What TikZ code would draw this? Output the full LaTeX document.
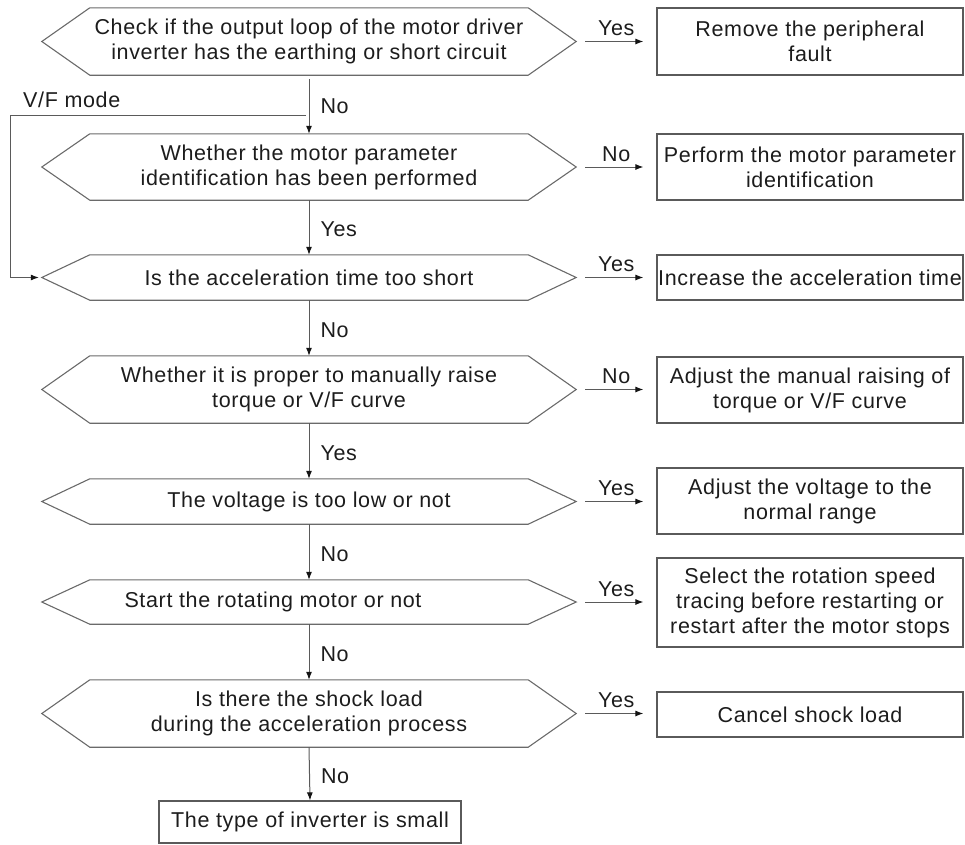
\documentclass[tikz,border=0pt]{standalone}
\usepackage{fontspec}
\setmainfont{Liberation Sans}[LetterSpace=3]
\usetikzlibrary{arrows.meta}

\definecolor{lineclr}{HTML}{5A5A5A}
\definecolor{hexclr}{HTML}{6A6A6A}
\definecolor{textclr}{HTML}{1C1C1C}
\definecolor{tipclr}{HTML}{141414}

\tikzset{
  txt/.style={font=\fontsize{21.5}{25}\selectfont, text=textclr, inner sep=0pt},
  hexnode/.style={txt, align=center, minimum width=534pt},
  hexline/.style={draw=hexclr, line width=1.1pt, line join=miter},
  actbox/.style={txt, align=center, draw=lineclr, line width=1.2pt, minimum width=306pt},
  endbox/.style={txt, align=center, draw=lineclr, line width=1.2pt, minimum width=302pt},
  flow/.style={draw=lineclr, line width=1pt, -{Latex[length=8pt,width=6pt,color=tipclr]}},
  vlbl/.style={txt, midway, right=11pt, yshift=-2pt},
  hlbl/.style={txt, midway, above=5pt},
}

% decision outline: flat top and bottom, pointed left and right ends
\newcommand\decisionoutline[1]{%
  \path[hexline] (#1.west) -- ([xshift=48pt]#1.north west) -- ([xshift=-48pt]#1.north east)
    -- (#1.east) -- ([xshift=-48pt]#1.south east) -- ([xshift=48pt]#1.south west) -- cycle;}

\begin{document}
\begin{tikzpicture}[x=1pt, y=-1pt]
  \useasboundingbox (0,0) rectangle (965,844);

  % decisions
  \node[hexnode, minimum height=67pt] (h1) at (309,41.5)
    {Check if the output loop of the motor driver\\inverter has the earthing or short circuit};
  \node[hexnode, minimum height=66pt] (h2) at (309,167)
    {Whether the motor parameter\\identification has been performed};
  \node[hexnode, minimum height=45pt] (h3) at (309,277.5)
    {Is the acceleration time too short};
  \node[hexnode, minimum height=67pt] (h4) at (309,389.5)
    {Whether it is proper to manually raise\\torque or V/F curve};
  \node[hexnode, minimum height=45pt] (h5) at (309,501.5)
    {The voltage is too low or not};
  \node[hexnode, minimum height=44pt] (h6) at (309,602) {};
  \node[txt] (h6text) at (273,602) {Start the rotating motor or not};
  \node[hexnode, minimum height=67pt] (h7) at (309,713.5)
    {Is there the shock load\\during the acceleration process};

  \foreach \h in {h1,h2,h3,h4,h5,h6,h7} {\decisionoutline{\h}}

  % actions
  \node[actbox, minimum height=67pt] (b1) at (810,41.5) {Remove the peripheral\\fault};
  \node[actbox, minimum height=66pt] (b2) at (810,167) {Perform the motor parameter\\identification};
  \node[actbox, minimum height=45pt] (b3) at (810,277.5) {Increase the acceleration time};
  \node[actbox, minimum height=66pt] (b4) at (810,390) {Adjust the manual raising of\\torque or V/F curve};
  \node[actbox, minimum height=66pt] (b5) at (810,501) {Adjust the voltage to the\\normal range};
  \node[actbox, minimum height=89pt] (b6) at (810,602.5)
    {Select the rotation speed\\tracing before restarting or\\restart after the motor stops};
  \node[actbox, minimum height=45pt] (b7) at (810,714.5) {Cancel shock load};

  \node[endbox, minimum height=42pt] (fin) at (310,822) {The type of inverter is small};

  % main vertical flow
  \draw[flow, shorten <=4pt] (h1.south) -- (h2.north) node[vlbl] {No};
  \draw[flow] (h2.south) -- (h3.north) node[vlbl] {Yes};
  \draw[flow] (h3.south) -- (h4.north) node[vlbl] {No};
  \draw[flow] (h4.south) -- (h5.north) node[vlbl] {Yes};
  \draw[flow] (h5.south) -- (h6.north) node[vlbl] {No};
  \draw[flow] (h6.south) -- (h7.north) node[vlbl] {No};
  \draw[flow] (h7.south) -- (fin.north) node[vlbl] {No};

  % branches to the actions
  \foreach \h/\b/\t in {h1/b1/Yes, h2/b2/No, h3/b3/Yes, h4/b4/No, h5/b5/Yes, h6/b6/Yes, h7/b7/Yes}
    \draw[flow, shorten <=9pt, shorten >=13pt] (\h.east) -- (\h.east -| \b.west) node[hlbl] {\t};

  % V/F mode bypass
  \coordinate (vfsplit) at (306,115);
  \coordinate (vfcorner) at (10,115);
  \draw[flow, shorten >=3pt] (vfsplit) -- (vfcorner) |- (h3.west);
  \node[txt, anchor=base west] (vflabel) at (23,107) {V/F mode};
\end{tikzpicture}
\end{document}
